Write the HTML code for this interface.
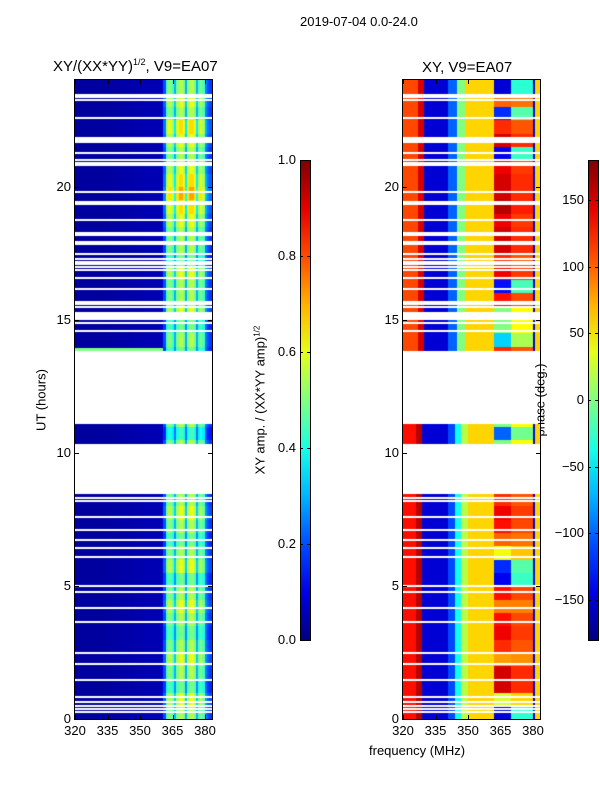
<!DOCTYPE html>
<html><head><meta charset="utf-8">
<style>
body{margin:0;background:#fff;}
#root{position:relative;width:600px;height:800px;font-family:"Liberation Sans",sans-serif;color:#000;overflow:hidden;}
.t{position:absolute;white-space:nowrap;font-size:13px;}
canvas{position:absolute;}
.box{position:absolute;border:1px solid #000;box-sizing:border-box;}
</style></head><body>
<div id="root">
<div class="t" style="left:300px;top:14px;">2019-07-04 0.0-24.0</div>
<div class="t" style="left:53px;top:57px;font-size:15px;">XY/(XX*YY)<sup style="font-size:9px">1/2</sup>, V9=EA07</div>
<div class="t" style="left:422px;top:59px;font-size:15px;">XY, V9=EA07</div>
<div class="t" style="left:41px;top:400px;transform:translate(-50%,-50%) rotate(-90deg);">UT (hours)</div>
<div class="t" style="left:369px;top:743px;">frequency (MHz)</div>
<div class="t" style="left:260px;top:400px;transform:translate(-50%,-50%) rotate(-90deg);">XY amp. / (XX*YY amp)<sup style="font-size:8px">1/2</sup></div>
<div class="t" style="left:540px;top:400px;transform:translate(-50%,-50%) rotate(-90deg);">phase (deg.)</div>
<canvas id="c1" width="137" height="639" style="left:75px;top:80px"></canvas>
<canvas id="c2" width="137" height="639" style="left:403px;top:80px"></canvas>
<div class="box" style="left:74px;top:79px;width:139px;height:641px"></div>
<div class="box" style="left:402px;top:79px;width:139px;height:641px"></div>
<div id="cb1" class="box" style="left:300px;top:160px;width:11px;height:481px"></div>
<div id="cb2" class="box" style="left:588px;top:160px;width:11px;height:481px"></div>
<div id="ticks"></div>
</div>
<script>
const freqs=[];for(let f=320;f<=382;f++)freqs.push(f);
const xTicks=[320,335,350,365,380];
const yTicks=[0,5,10,15,20];
const ampTicks=[0.0,0.2,0.4,0.6,0.8,1.0];
const phaseTicks=[-150,-100,-50,0,50,100,150];
const dataSegments=[[0,8.47],[10.35,11.06],[13.85,14.97],[15.3,23.2],[23.28,24]];
const flaggedUT=[23.43,23.36,22.57,21.82,21.75,21.67,21.26,21.0,20.89,20.81,19.8,19.42,19.35,18.75,18.26,18.19,17.92,17.85,17.47,17.29,17.17,17.1,16.99,16.87,16.57,16.16,15.67,15.6,15.49,14.89,14.59,8.29,8.17,7.57,7.09,6.71,6.41,6.07,5.0,4.77,4.16,3.64,2.47,2.06,1.46,0.82,0.64,0.49,0.37,0.26];
const ampCol=[0.03,0.03,0.03,0.03,0.03,0.03,0.03,0.03,0.03,0.03,0.03,0.03,0.03,0.03,0.03,0.03,0.035,0.035,0.035,0.035,0.035,0.04,0.04,0.04,0.04,0.04,0.04,0.045,0.045,0.045,0.045,0.045,0.05,0.05,0.05,0.05,0.05,0.05,0.05,0.05,0.07,0.2,0.45,0.5,0.5,0.45,0.3,0.5,0.55,0.55,0.5,0.3,0.5,0.55,0.55,0.5,0.3,0.45,0.5,0.45,0.25,0.2,0.18];
const ampRow=[1,1.1,0.9,1,1.1,1,0.9,1,1.1,1,0.9,1.1,1,0.9,1,1.1,1,1,1,1,1,0.8,1,1,1,1,1,0.9,1,0.9,1.1,1,1,1.1,0.9,1,1,1.1,1.2,1.3,1.2,1.1,1,1.1,1.2,1,1.1,1];
const phaseColLow=[130,130,130,130,130,130,160,160,160,-150,-150,-150,-150,-150,-150,-150,-150,-150,-150,-150,-150,-110,-110,-110,-40,-40,-40,20,20,20,60,60,60,60,60,60,60,60,60,60,60,60];
const phaseColUp=[110,110,110,110,110,110,110,150,150,150,-150,-150,-150,-150,-150,-150,-150,-150,-150,-150,-150,-100,-100,-100,-100,0,0,0,0,60,60,60,60,60,60,60,60,60,60,60,60,60];
const hiBand=[-150,30,150,150,80,120,140,130,90,130,-140,-120,40,100,130,140,120,0,0,0,0,-100,0,0,0,0,0,120,-60,0,0,130,-130,140,120,150,150,140,160,150,150,140,-140,150,120,-120,100,-150];
function jet(x){x=Math.max(0,Math.min(1,x));const c=v=>Math.round(255*Math.max(0,Math.min(1,v)));return [c(1.5-Math.abs(4*x-3)),c(1.5-Math.abs(4*x-2)),c(1.5-Math.abs(4*x-1))];}
const W=137,H=639,t0=0,t1=24;
const xs=f=>(f-320)*130/60; const ys=t=>H-(t-t0)*H/(t1-t0);
function inData(t){return dataSegments.some(s=>t>=s[0]&&t<s[1]);}
function draw(id,fn){const ctx=document.getElementById(id).getContext('2d');const n=480,dt=24/n;
 for(let k=0;k<n;k++){const t=k*dt;if(!inData(t+dt/2))continue;const hi=Math.floor(t*2);
  freqs.forEach((f,i)=>{const col=jet(fn(i,f,t,hi));ctx.fillStyle='rgb('+col+')';const x0=Math.floor(xs(f)),y0=Math.floor(ys(t+dt));ctx.fillRect(x0,y0,Math.ceil(xs(f+1))-x0,Math.ceil(ys(t))-y0);});}
 ctx.fillStyle='#fff';flaggedUT.forEach(u=>{ctx.fillRect(0,Math.round(ys(u))-1,W,2);});}
draw('c1',(i,f,t,hi)=>{let a=ampCol[i];if(f>=361)a*=ampRow[hi];if(t>=13.85&&t<13.92&&f<361)a=0.5;return a;});
draw('c2',(i,f,t,hi)=>{let p;if(f<362)p=(t>12?phaseColUp:phaseColLow)[i];else if(f===380)p=-150;else if(f>380)p=60;else if(f>=370)p=hiBand[hi]*0.5+45;else p=hiBand[hi];return (p+180)/360;});
function grad(){let s=[];for(let k=0;k<=10;k++){s.push('rgb('+jet(1-k/10)+') '+(k*10)+'%');}return 'linear-gradient('+s.join(',')+')';}
document.getElementById('cb1').style.background=grad();document.getElementById('cb2').style.background=grad();
const T=document.getElementById('ticks');
function lbl(txt,x,y,align,name){const d=document.createElement('div');d.className='t';d.textContent=txt;d.style.left=x+'px';d.style.top=(y-8)+'px';d.style.transform=align==='r'?'translateX(-100%)':'translateX(-50%)';


T.appendChild(d);}
function tk(x,y,w,h){const d=document.createElement('div');d.style.cssText='position:absolute;background:#000;left:'+x+'px;top:'+y+'px;width:'+w+'px;height:'+h+'px';


T.appendChild(d);}
[75,403].forEach(ox=>{xTicks.forEach(f=>{const x=ox+xs(f);lbl(String(f),x,731,'c','x-tick-label');tk(x,715,1,4);tk(x,80,1,4);});
 yTicks.forEach(u=>{const y=80+ys(u);lbl(String(u),ox-4,y,'r','y-tick-label');tk(ox,y,4,1);tk(ox+133,y,4,1);});});
ampTicks.forEach(v=>{const y=640-480*v;lbl(v.toFixed(1),296,y,'r','amp-colorbar-tick');tk(300,y,3,1);tk(307,y,3,1);});
phaseTicks.forEach(v=>{const y=400-v*480/360;lbl(String(v).replace('-','\u2212'),584,y,'r','phase-colorbar-tick');tk(588,y,3,1);tk(595,y,3,1);});
</script>
</body></html>
